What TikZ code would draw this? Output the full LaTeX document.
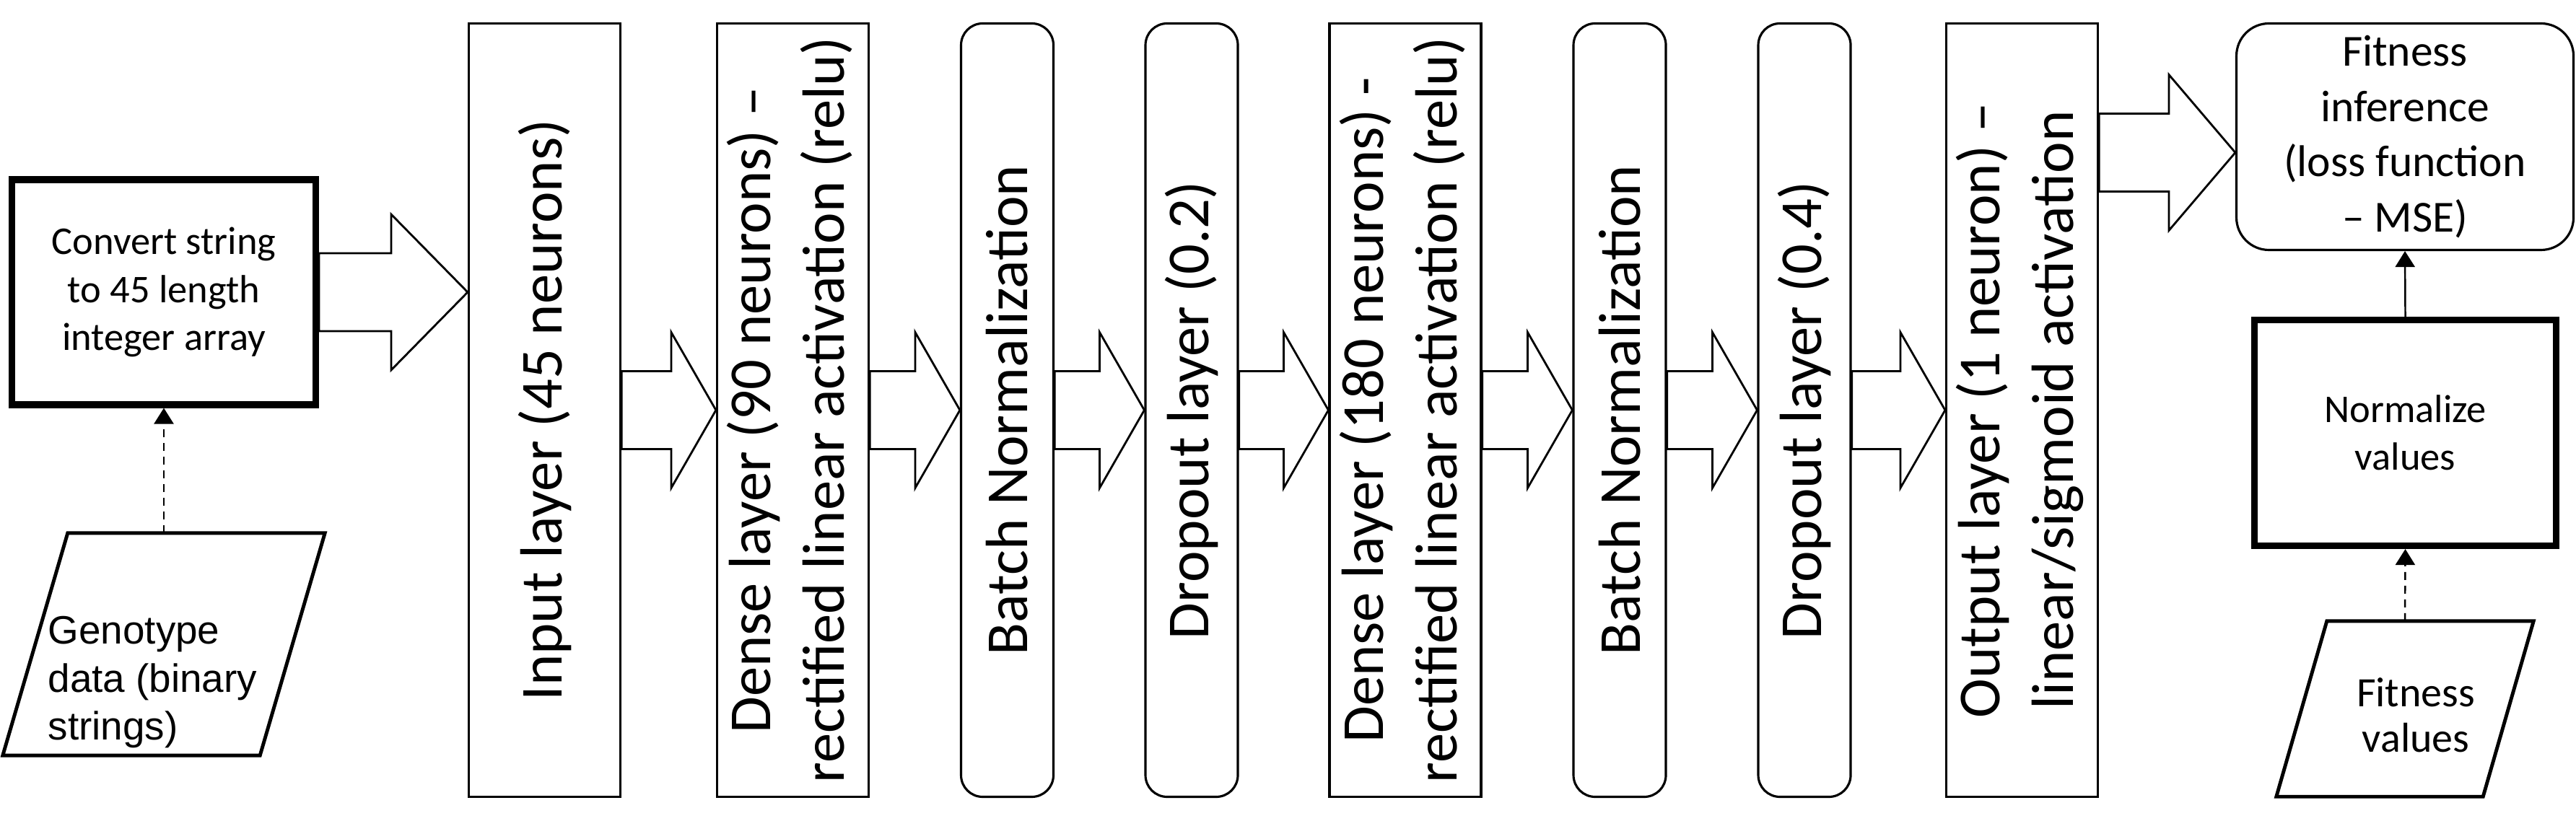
\documentclass[tikz,border=0pt]{standalone}
\usepackage{fontspec}
\setmainfont{Carlito}
\newfontfamily\arialfont{Liberation Sans}
\usepackage{graphicx}
\usetikzlibrary{calc}
\usetikzlibrary{arrows.meta}

\newcommand{\blockarrow}[3]{%
    \draw[blockarr] let \p1=#1, \p2=#2 in (\x1,\y1+0.54cm) -- (\x2-#3,\y1+0.54cm) -- (\x2-#3,\y1+1.08cm) -- (\x2,\y1) -- (\x2-#3,\y1-1.08cm) -- (\x2-#3,\y1-0.54cm) -- (\x1,\y1-0.54cm) -- cycle;}

\begin{document}
\begin{tikzpicture}[
        layer/.style={draw, line width=0.9pt, minimum width=2.10cm, minimum height=10.72cm, inner sep=0pt, font=\fontsize{23.5}{29}\selectfont},
        thinlayer/.style={layer, rounded corners=0.3cm, minimum width=1.28cm},
        thickbox/.style={draw, line width=2.6pt, inner sep=0pt, align=center, font=\fontsize{15.5}{18.8}\selectfont},
        blockarr/.style={draw, fill=white, line width=0.8pt, line join=miter},
        flow/.style={-{Triangle[length=0.22cm,width=0.27cm]}, line width=0.7pt},
        dashflow/.style={flow, dash pattern=on 0.11cm off 0.08cm}]
            \useasboundingbox (0,0) rectangle (35.69,11.37);
            \node[thickbox, minimum width=4.21cm, minimum height=3.12cm] (conv) at (2.27,7.32) {Convert string\\to 45 length\\integer array};
            \node[minimum width=4.45cm, minimum height=3.07cm, inner sep=0pt] (geno) at (2.27,2.44) {};
            \draw[line width=1.4pt] (geno.south west) -- ($(geno.north west)+(0.9,0)$) -- (geno.north east) -- ($(geno.south east)-(0.9,0)$) -- cycle;
            \node[font=\arialfont\fontsize{15.6}{18.8}\selectfont, align=left, anchor=north west, inner sep=0pt] (genotxt) at ($(geno.center)+(-1.61,0.39)$) {Genotype\\data (binary\\strings)};
            \node[layer] (inp) at (7.545,5.685) {\rotatebox{90}{Input layer (45 neurons)}};
            \node[layer] (dns1) at (10.985,5.685) {\rotatebox{90}{\begin{tabular}{@{}c@{}}Dense layer (90 neurons) –\\rectified linear activation (relu)\end{tabular}}};
            \node[thinlayer] (bn1) at (13.955,5.685) {\rotatebox{90}{Batch Normalization}};
            \node[thinlayer] (drp1) at (16.51,5.685) {\rotatebox{90}{Dropout layer (0.2)}};
            \node[layer] (dns2) at (19.47,5.685) {\rotatebox{90}{\begin{tabular}{@{}c@{}}Dense layer (180 neurons) -\\rectified linear activation (relu)\end{tabular}}};
            \node[thinlayer] (bn2) at (22.44,5.685) {\rotatebox{90}{Batch Normalization}};
            \node[thinlayer] (drp2) at (25.00,5.685) {\rotatebox{90}{Dropout layer (0.4)}};
            \node[layer] (outl) at (28.015,5.685) {\rotatebox{90}{\begin{tabular}{@{}c@{}}Output layer (1 neuron) –\\linear/sigmoid activation\end{tabular}}};
            \node[draw, line width=0.9pt, rounded corners=0.45cm, minimum width=4.67cm, minimum height=3.14cm, inner sep=0pt, align=center, font=\fontsize{17.5}{21.8}\selectfont] (fitinf) at (33.32,9.475) {Fitness\\inference\\(loss function\\– MSE)};
            \node[thickbox, minimum width=4.18cm, minimum height=3.13cm] (norm) at (33.325,5.37) {Normalize\\values};
            \node[minimum width=3.55cm, minimum height=2.42cm, inner sep=0pt] (fitval) at (33.32,1.545) {};
            \draw[line width=1.4pt] (fitval.south west) -- ($(fitval.north west)+(0.7,0)$) -- (fitval.north east) -- ($(fitval.south east)-(0.7,0)$) -- cycle;
            \node[align=center, font=\fontsize{16.5}{18}\selectfont, inner sep=0pt] (fitvaltxt) at ($(fitval.center)+(0.15,-0.085)$) {Fitness\\values};
            \blockarrow{(conv.east)}{(inp.west)}{1.06cm}
            \blockarrow{(inp.east)}{(dns1.west)}{0.62cm}
            \blockarrow{(dns1.east)}{(bn1.west)}{0.62cm}
            \blockarrow{(bn1.east)}{(drp1.west)}{0.62cm}
            \blockarrow{(drp1.east)}{(dns2.west)}{0.62cm}
            \blockarrow{(dns2.east)}{(bn2.west)}{0.62cm}
            \blockarrow{(bn2.east)}{(drp2.west)}{0.62cm}
            \blockarrow{(drp2.east)}{(outl.west)}{0.62cm}
            \blockarrow{($(outl.east |- fitinf.west)+(0,-0.22)$)}{(fitinf.west)}{0.92cm}
            \draw[dashflow] (geno.north) -- (conv.south);
            \draw[flow] (norm.north) -- (fitinf.south);
            \draw[dashflow] (fitval.north) -- (norm.south);
        \end{tikzpicture}
\end{document}
